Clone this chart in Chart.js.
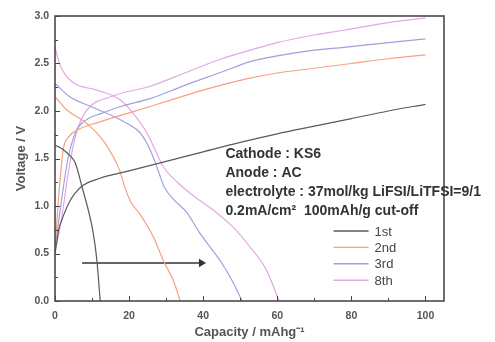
<!DOCTYPE html>
<html lang="en">
<head>
<meta charset="UTF-8">
<title>Charge / discharge curves</title>
<script src="https://cdn.jsdelivr.net/npm/chart.js"></script>
<style>
html, body { margin: 0; padding: 0; background: #fff; }
.chart-container { width: 495px; height: 342px; }
</style>
</head>
<body>
<div class="chart-container"><canvas id="cdChart" width="495" height="342"></canvas></div>
<script>
// capacity (mAh/g) and voltage (V)
const cycleLabels = ['1st', '2nd', '3rd', '8th'];
const cycleColors = ['#5a5a5a', '#f5a27e', '#a0a0de', '#e2a8e2'];

const cap1stCharge = [0, 0.5, 1, 2, 4, 7, 12, 20, 30, 40, 50, 60, 70, 80, 90, 100];
const volt1stCharge = [0.5, 0.62, 0.75, 0.87, 1.05, 1.2, 1.29, 1.37, 1.47, 1.57, 1.67, 1.76, 1.84, 1.92, 2.0, 2.07];
const cap1stDisch = [0, 2, 4, 5.4, 7.3, 10.3, 11.3, 12.2];
const volt1stDisch = [1.64, 1.6, 1.53, 1.46, 1.2, 0.72, 0.43, 0];

const cap2ndCharge = [0, 0.8, 2.2, 3.5, 6, 10, 20, 30, 40, 52, 60, 70, 80, 90, 100];
const volt2ndCharge = [0.55, 1.0, 1.59, 1.72, 1.8, 1.86, 1.98, 2.1, 2.22, 2.34, 2.4, 2.45, 2.5, 2.55, 2.59];
const cap2ndDisch = [0, 3.2, 8.6, 13, 15.7, 17.5, 19, 20.5, 23, 26.5, 29.3, 32, 33.8];
const volt2ndDisch = [2.15, 2.01, 1.87, 1.69, 1.52, 1.37, 1.18, 1.04, 0.91, 0.68, 0.42, 0.21, 0];

const cap3rdCharge = [0, 1.4, 3.5, 5, 6.3, 9, 12.2, 18, 25.7, 35, 45, 52.7, 60, 70, 78, 90, 100];
const volt3rdCharge = [0.55, 0.96, 1.5, 1.72, 1.83, 1.92, 1.97, 2.05, 2.13, 2.27, 2.41, 2.52, 2.58, 2.64, 2.67, 2.72, 2.76];
const cap3rdDisch = [0, 4, 9.5, 14.9, 19.4, 23, 25.7, 27.5, 29.5, 32, 35.6, 39, 42, 45, 48, 50.5];
const volt3rdDisch = [2.29, 2.15, 2.05, 1.96, 1.87, 1.77, 1.59, 1.41, 1.2, 1.07, 0.93, 0.72, 0.56, 0.4, 0.2, 0];

const cap8thCharge = [0, 1.4, 4, 6, 8.6, 15, 25.7, 35, 45, 52.7, 60, 70, 78, 90, 100];
const volt8thCharge = [0.55, 0.78, 1.45, 1.8, 2.01, 2.15, 2.26, 2.4, 2.55, 2.64, 2.72, 2.8, 2.85, 2.93, 2.98];
const cap8thDisch = [0, 1.4, 4.5, 11.3, 17.5, 21, 24.8, 29.3, 33, 39, 42, 48, 52, 57, 60.5];
const volt8thDisch = [2.67, 2.48, 2.31, 2.22, 2.12, 1.98, 1.77, 1.41, 1.25, 1.06, 0.98, 0.78, 0.6, 0.33, 0];

const arrowCap = [7.3, 39.5];
const arrowVolt = [0.4, 0.4];

const xTicks = [0, 20, 40, 60, 80, 100];
const yTicks = [0.0, 0.5, 1.0, 1.5, 2.0, 2.5, 3.0];

const noteLines = ['Cathode : KS6', 'Anode : AC', 'electrolyte : 37mol/kg LiFSI/LiTFSI=9/1', '0.2mA/cm\u00B2  100mAh/g cut-off'];

const pts = (xs, ys) => xs.map((x, i) => ({ x: x, y: ys[i] }));

const curves = [
  [cap1stCharge, volt1stCharge, 0], [cap1stDisch, volt1stDisch, 0],
  [cap2ndCharge, volt2ndCharge, 1], [cap2ndDisch, volt2ndDisch, 1],
  [cap3rdCharge, volt3rdCharge, 2], [cap3rdDisch, volt3rdDisch, 2],
  [cap8thCharge, volt8thCharge, 3], [cap8thDisch, volt8thDisch, 3]
];

const datasets = curves.map(c => ({
  label: cycleLabels[c[2]],
  data: pts(c[0], c[1]),
  borderColor: cycleColors[c[2]],
  borderWidth: 1.2,
  pointRadius: 0,
  showLine: true,
  cubicInterpolationMode: 'monotone'
}));

datasets.push({
  label: 'arrow',
  data: pts(arrowCap, arrowVolt),
  borderColor: '#333',
  backgroundColor: '#333',
  borderWidth: 1.3,
  showLine: true,
  pointStyle: 'triangle',
  rotation: 90,
  pointRadius: [0, 3.5]
});

// frame, inward ticks, notes and legend
const decor = {
  id: 'decor',
  afterDatasetsDraw(chart) {
    const ctx = chart.ctx, a = chart.chartArea;
    const xs = chart.scales.x, ys = chart.scales.y;
    ctx.save();
    ctx.strokeStyle = '#444';
    ctx.lineWidth = 1;
    ctx.beginPath();
    for (let v = 0; v <= 100; v += 10) {
      const px = Math.round(xs.getPixelForValue(v)) + 0.5;
      const len = v % 20 === 0 ? 5 : 3;
      ctx.moveTo(px, a.bottom); ctx.lineTo(px, a.bottom - len);
    }
    for (let v = 0; v <= 3; v += 0.25) {
      const py = Math.round(ys.getPixelForValue(v)) + 0.5;
      const len = Math.abs(v * 2 - Math.round(v * 2)) < 1e-6 ? 5 : 3;
      ctx.moveTo(a.left, py); ctx.lineTo(a.left + len, py);
    }
    ctx.stroke();
    ctx.lineWidth = 1.6;
    ctx.strokeStyle = '#4a4a4a';
    ctx.strokeRect(a.left, a.top, a.right - a.left, a.bottom - a.top);

    // notes
    ctx.fillStyle = '#333';
    ctx.font = 'bold 14px "Liberation Sans", Arial, sans-serif';
    ctx.textBaseline = 'middle';
    ctx.textAlign = 'left';
    const nx = xs.getPixelForValue(46);
    noteLines.forEach((t, i) => ctx.fillText(t, nx, 154 + i * 19));

    // legend
    ctx.font = '13px "Liberation Sans", Arial, sans-serif';
    const lx = xs.getPixelForValue(75.2);
    cycleLabels.forEach((t, i) => {
      const ly = 231 + i * 16.4;
      ctx.strokeStyle = cycleColors[i];
      ctx.lineWidth = 1.4;
      ctx.beginPath();
      ctx.moveTo(lx, ly); ctx.lineTo(lx + 35, ly);
      ctx.stroke();
      ctx.fillStyle = '#444';
      ctx.fillText(t, lx + 41, ly + 1);
    });
    ctx.restore();
  }
};

const tickFont = { family: '"Liberation Sans", Arial, sans-serif', size: 10.5, weight: 'bold' };

new Chart(document.getElementById('cdChart'), {
  type: 'scatter',
  data: { datasets: datasets },
  options: {
    responsive: false,
    animation: false,
    layout: { padding: { left: 0, top: 16, right: 51, bottom: 0 } },
    plugins: { legend: { display: false }, tooltip: { enabled: false } },
    scales: {
      x: {
        type: 'linear', min: 0, max: 105,
        afterFit: s => { s.height = 41; },
        afterBuildTicks: s => { s.ticks = xTicks.map(v => ({ value: v })); },
        grid: { display: false, drawTicks: false },
        border: { display: false },
        ticks: { padding: 9, color: '#555', font: tickFont, autoSkip: false, maxRotation: 0 },
        title: {
          display: true, text: 'Capacity / mAhg\u207B\u00B9', color: '#555',
          font: { family: '"Liberation Sans", Arial, sans-serif', size: 13, weight: 'bold' },
          padding: { top: 0, bottom: 2 }
        }
      },
      y: {
        type: 'linear', min: 0, max: 3,
        afterFit: s => { s.width = 55; },
        afterBuildTicks: s => { s.ticks = yTicks.map(v => ({ value: v })); },
        grid: { display: false, drawTicks: false },
        border: { display: false },
        ticks: { padding: 6, color: '#555', font: tickFont, autoSkip: false, callback: v => v.toFixed(1) },
        title: {
          display: true, text: 'Voltage / V', color: '#555',
          font: { family: '"Liberation Sans", Arial, sans-serif', size: 13, weight: 'bold' },
          padding: { top: 14, bottom: 0 }
        }
      }
    }
  },
  plugins: [decor]
});
</script>
</body>
</html>
